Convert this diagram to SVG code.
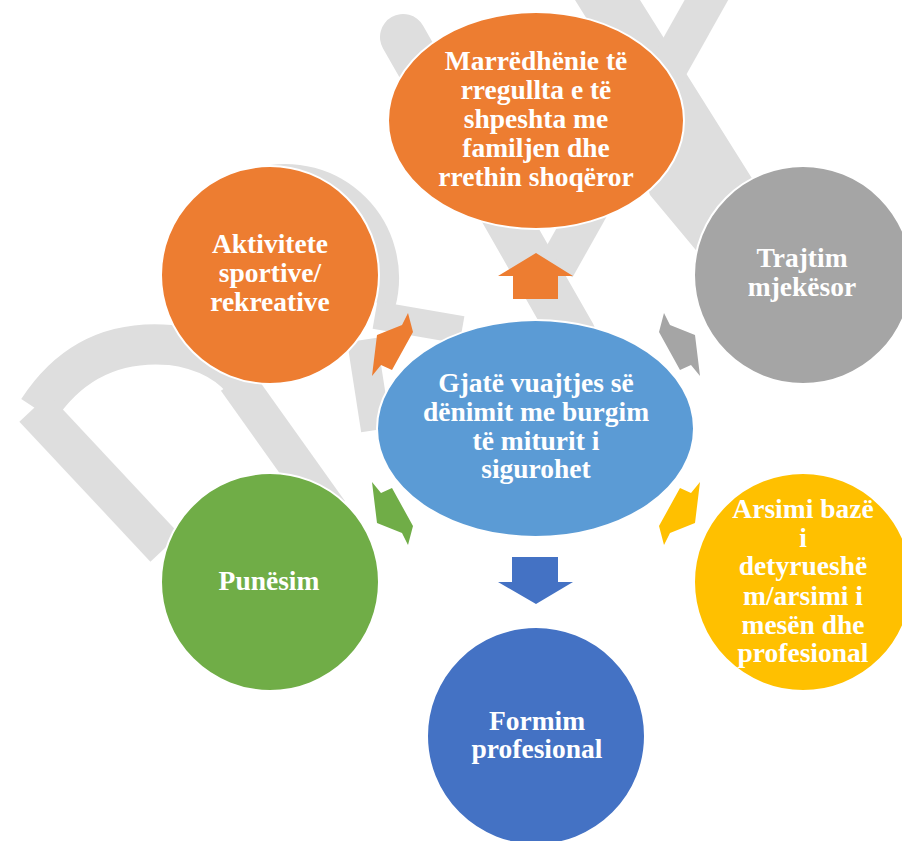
<svg xmlns="http://www.w3.org/2000/svg" width="902" height="841" viewBox="0 0 902 841">
<style>
.wm{fill:none;stroke:#DEDEDE}
.wmf{fill:#DEDEDE;stroke:none}
.node{stroke:#FFFFFF;stroke-width:2}
.t{font-family:"Liberation Serif","Times New Roman",serif;font-weight:bold;font-size:27.5px;fill:#FFFFFF;text-anchor:middle}
</style>
<rect width="902" height="841" fill="#FFFFFF"/>
<g id="watermark">
<polygon class="wmf" points="575,0 640,0 775,215 740,262 700,255 650,195 600,40"/>
<line class="wm" x1="712" y1="-10" x2="556" y2="268" stroke-width="38"/>
<line class="wm" x1="403" y1="37" x2="573" y2="335" stroke-width="46" stroke-linecap="round"/>
<path class="wm" d="M 258.9 180.4 A 101 101 0 0 1 382.6 304.1" stroke-width="26"/>
<path class="wm" d="M 375 315 L 462 330" stroke-width="28"/>
<path class="wm" d="M 362 340 L 376 430" stroke-width="30"/>
<path class="wm" d="M 236 380 L 330 512" stroke-width="37"/>
<path class="wm" d="M 38 410 Q 85 338 170 345 Q 225 352 250 390" stroke-width="40"/>
<path class="wm" d="M 34 408 L 165 548" stroke-width="40"/>
</g>
<g id="connectors">
<polygon id="arrow-up" fill="#ED7D31" points="536,253 573,276 558,276 558,299 513,299 513,276 498,276"/>
<polygon id="arrow-down" fill="#4472C4" points="512,557 558,557 558,582 573,582 536,604 498,582 512,582"/>
<polygon id="arrow-upleft" fill="#ED7D31" points="408,313 413,332 392,370 381,365 372,376 377,335 402,325"/>
<polygon id="arrow-upright" fill="#A5A5A5" points="664,313 659,332 680,370 691,365 700,376 695,335 670,325"/>
<polygon id="arrow-downleft" fill="#70AD47" points="408,545 413,526 392,488 381,493 372,482 377,523 402,533"/>
<polygon id="arrow-downright" fill="#FFC000" points="664,545 659,526 680,488 691,493 700,482 695,523 670,533"/>
</g>
<g id="node-center">
<ellipse class="node" cx="535.5" cy="428.5" rx="158.5" ry="108.5" fill="#5B9BD5"/>
<text class="t" x="536" y="392">Gjatë vuajtjes së</text>
<text class="t" x="536" y="421">dënimit me burgim</text>
<text class="t" x="536" y="450">të miturit i</text>
<text class="t" x="536" y="478">sigurohet</text>
</g>
<g id="node-top">
<ellipse class="node" cx="536" cy="120.5" rx="148" ry="108.5" fill="#ED7D31"/>
<text class="t" x="536" y="70">Marrëdhënie të</text>
<text class="t" x="536" y="99">rregullta e të</text>
<text class="t" x="536" y="128">shpeshta me</text>
<text class="t" x="536" y="157">familjen dhe</text>
<text class="t" x="536" y="186">rrethin shoqëror</text>
</g>
<g id="node-left-top">
<circle class="node" cx="270" cy="275" r="109" fill="#ED7D31"/>
<text class="t" x="270" y="253">Aktivitete</text>
<text class="t" x="270" y="282">sportive/</text>
<text class="t" x="270" y="311">rekreative</text>
</g>
<g id="node-right-top">
<circle class="node" cx="803" cy="275" r="109" fill="#A5A5A5"/>
<text class="t" x="802" y="267">Trajtim</text>
<text class="t" x="802" y="296">mjekësor</text>
</g>
<g id="node-left-bottom">
<circle class="node" cx="270" cy="582" r="109" fill="#70AD47"/>
<text class="t" x="269" y="590">Punësim</text>
</g>
<g id="node-right-bottom">
<circle class="node" cx="803" cy="582" r="109" fill="#FFC000"/>
<text class="t" x="803" y="518">Arsimi bazë</text>
<text class="t" x="803" y="547">i</text>
<text class="t" x="803" y="575">detyrueshë</text>
<text class="t" x="803" y="605">m/arsimi i</text>
<text class="t" x="803" y="634">mesën dhe</text>
<text class="t" x="803" y="662">profesional</text>
</g>
<g id="node-bottom">
<circle class="node" cx="536" cy="736" r="109" fill="#4472C4"/>
<text class="t" x="537" y="730">Formim</text>
<text class="t" x="537" y="758">profesional</text>
</g>
</svg>
